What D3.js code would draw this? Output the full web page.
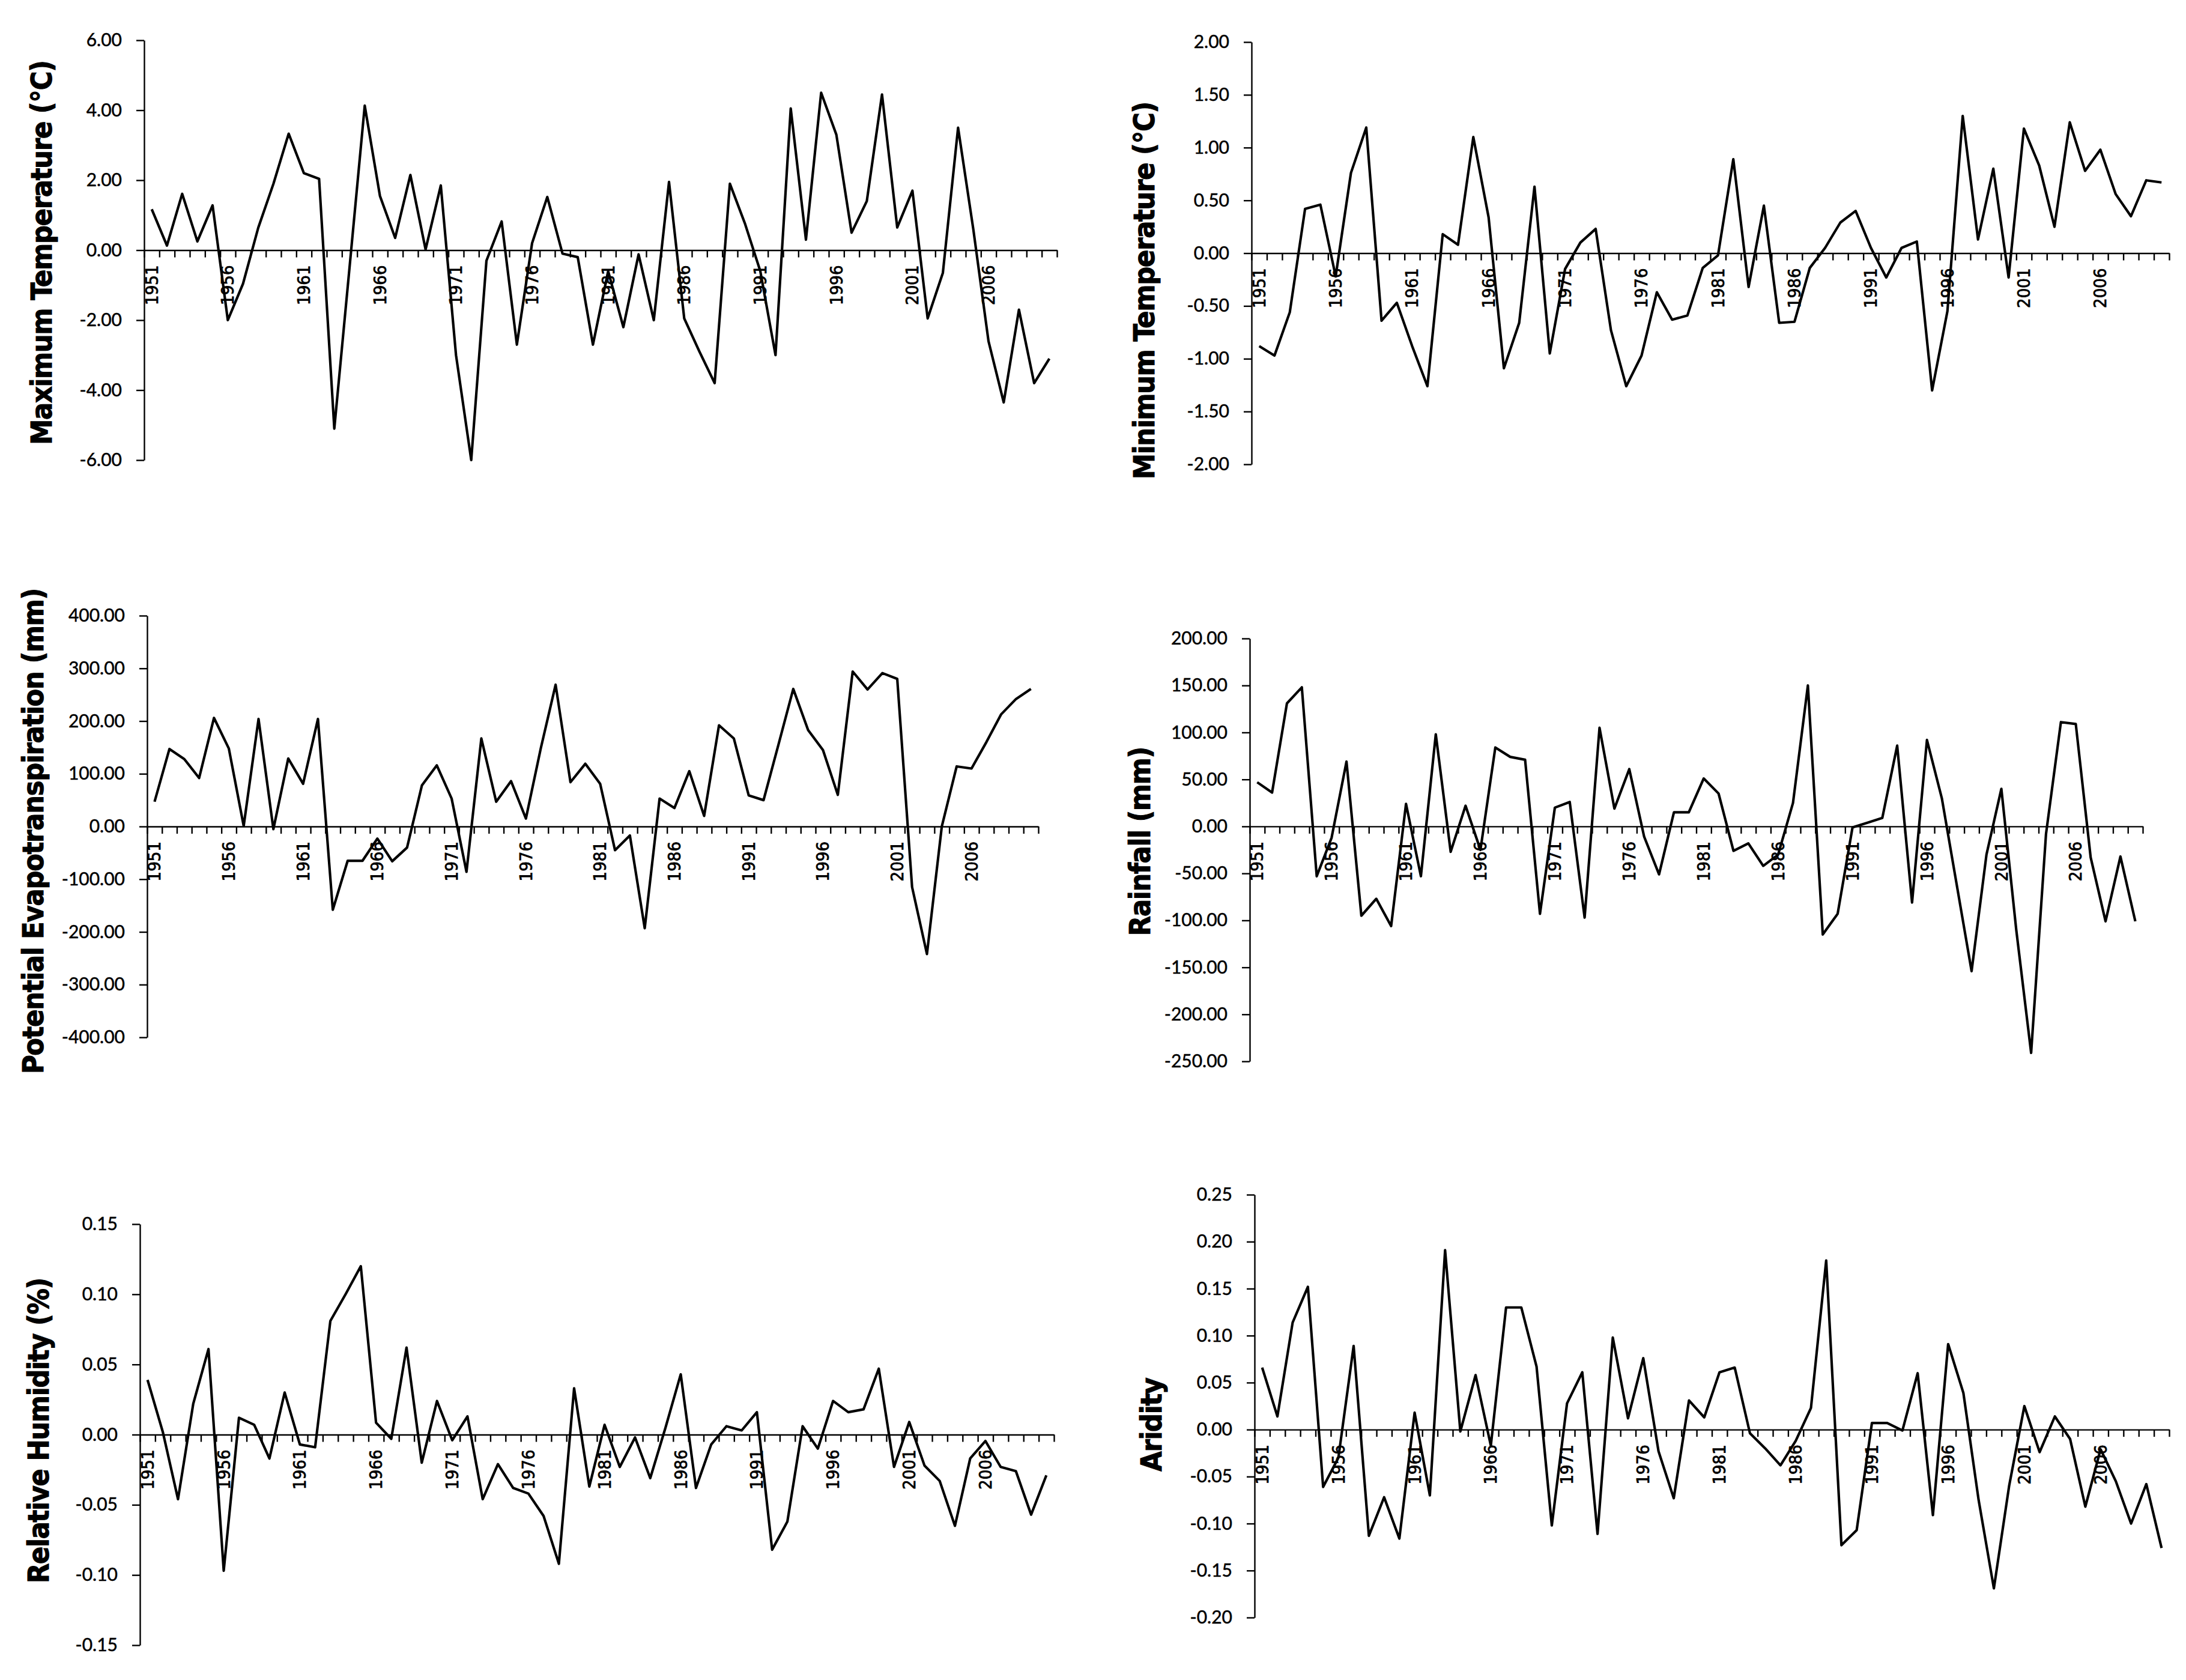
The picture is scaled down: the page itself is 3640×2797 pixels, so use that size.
<!DOCTYPE html>
<html>
<head>
<meta charset="utf-8">
<script src="https://cdn.jsdelivr.net/npm/d3@7"></script>
<style>
  body { margin: 0; background: #fff; }
  text { fill: #000; }
</style>
</head>
<body>
<svg id="chart" width="3640" height="2797"></svg>
<script>
// categories
var years = [1951, 1952, 1953, 1954, 1955, 1956, 1957, 1958, 1959, 1960,
             1961, 1962, 1963, 1964, 1965, 1966, 1967, 1968, 1969, 1970,
             1971, 1972, 1973, 1974, 1975, 1976, 1977, 1978, 1979, 1980,
             1981, 1982, 1983, 1984, 1985, 1986, 1987, 1988, 1989, 1990,
             1991, 1992, 1993, 1994, 1995, 1996, 1997, 1998, 1999, 2000,
             2001, 2002, 2003, 2004, 2005, 2006, 2007, 2008, 2009, 2010];
var labelYears = [1951, 1956, 1961, 1966, 1971, 1976, 1981, 1986, 1991, 1996, 2001, 2006];

// series
var maxTemp = [1.17, 0.13, 1.61, 0.25, 1.28, -2.0, -0.96, 0.64, 1.9, 3.33,
               2.2, 2.04, -5.1, -0.5, 4.13, 1.55, 0.35, 2.15, 0.02, 1.85,
               -3.0, -6.0, -0.3, 0.82, -2.7, 0.2, 1.52, -0.1, -0.2, -2.7,
               -0.6, -2.2, -0.12, -2.0, 1.95, -1.95, -2.9, -3.8, 1.9, 0.75,
               -0.6, -3.0, 4.05, 0.3, 4.5, 3.3, 0.5, 1.4, 4.45, 0.65,
               1.7, -1.95, -0.65, 3.5, 0.6, -2.6, -4.35, -1.7, -3.8, -3.1];
var minTemp = [-0.88, -0.97, -0.56, 0.42, 0.46, -0.22, 0.76, 1.19, -0.64, -0.47,
               -0.88, -1.26, 0.18, 0.08, 1.10, 0.34, -1.09, -0.66, 0.63, -0.95,
               -0.15, 0.10, 0.23, -0.73, -1.26, -0.97, -0.37, -0.63, -0.59, -0.14,
               -0.02, 0.89, -0.32, 0.45, -0.66, -0.65, -0.14, 0.05, 0.29, 0.40,
               0.05, -0.23, 0.05, 0.11, -1.30, -0.55, 1.30, 0.13, 0.80, -0.23,
               1.18, 0.83, 0.25, 1.24, 0.78, 0.98, 0.56, 0.35, 0.69, 0.67];
var pet = [47, 147, 128, 92, 206, 148, 1, 204, -5, 129,
           81, 204, -158, -65, -65, -23, -66, -40, 78, 116,
           53, -86, 167, 47, 86, 15, 148, 269, 84, 119,
           81, -45, -17, -193, 53, 35, 105, 20, 192, 167,
           59, 50, 155, 261, 183, 145, 60, 294, 260, 291,
           280, -115, -242, 0, 114, 110, 160, 213, 242, 261];
var rainfall = [47, 36, 131, 148, -53, -12, 69, -95, -77, -106,
                24, -53, 98, -27, 22, -25, 84, 74, 71, -93,
                20, 26, -97, 105, 19, 61, -11, -51, 15, 15,
                51, 35, -26, -18, -42, -30, 25, 150, -115, -93,
                -1, 4, 9, 86, -81, 92, 30, -62, -154, -30,
                40, -110, -241, -8, 111, 109, -33, -101, -32, -101];
var humidity = [0.039, 0.002, -0.046, 0.022, 0.061, -0.097, 0.012, 0.007, -0.017, 0.030,
                -0.007, -0.009, 0.081, 0.100, 0.120, 0.0085, -0.003, 0.062, -0.020, 0.024,
                -0.004, 0.013, -0.046, -0.021, -0.038, -0.042, -0.058, -0.092, 0.033, -0.037,
                0.007, -0.023, -0.002, -0.031, 0.005, 0.043, -0.038, -0.007, 0.006, 0.003,
                0.016, -0.082, -0.062, 0.006, -0.010, 0.024, 0.016, 0.018, 0.047, -0.023,
                0.009, -0.022, -0.033, -0.065, -0.017, -0.0045, -0.023, -0.026, -0.057, -0.029];
var aridity = [0.066, 0.014, 0.114, 0.152, -0.061, -0.030, 0.089, -0.113, -0.072, -0.116,
               0.018, -0.070, 0.191, -0.002, 0.058, -0.017, 0.130, 0.130, 0.067, -0.102,
               0.028, 0.061, -0.111, 0.098, 0.012, 0.076, -0.023, -0.073, 0.031, 0.013,
               0.061, 0.066, -0.004, -0.020, -0.038, -0.012, 0.023, 0.180, -0.123, -0.107,
               0.007, 0.007, -0.001, 0.060, -0.091, 0.091, 0.039, -0.075, -0.169, -0.060,
               0.025, -0.024, 0.014, -0.010, -0.082, -0.021, -0.055, -0.100, -0.058, -0.126];

// tick labels
var maxTempTicks = [6, 4, 2, 0, -2, -4, -6];
var minTempTicks = [2, 1.5, 1, 0.5, 0, -0.5, -1, -1.5, -2];
var petTicks = [400, 300, 200, 100, 0, -100, -200, -300, -400];
var rainTicks = [200, 150, 100, 50, 0, -50, -100, -150, -200, -250];
var humidityTicks = [0.15, 0.10, 0.05, 0, -0.05, -0.10, -0.15];
var aridityTicks = [0.25, 0.20, 0.15, 0.10, 0.05, 0, -0.05, -0.10, -0.15, -0.20];

var panels = [
  { title: "Maximum Temperature (\u00b0C)", values: maxTemp, ticks: maxTempTicks,
    left: 240, right: 1760, top: 67, bottom: 766, tx: 86, ty: 421 },
  { title: "Minimum Temperature (\u00b0C)", values: minTemp, ticks: minTempTicks,
    left: 2084, right: 3612, top: 70, bottom: 773, tx: 1922, ty: 484 },
  { title: "Potential Evapotranspiration (mm)", values: pet, ticks: petTicks,
    left: 245, right: 1729, top: 1025, bottom: 1727, tx: 72, ty: 1384 },
  { title: "Rainfall (mm)", values: rainfall, ticks: rainTicks,
    left: 2081, right: 3568, top: 1063, bottom: 1767, tx: 1915, ty: 1401 },
  { title: "Relative Humidity (%)", values: humidity, ticks: humidityTicks,
    left: 233, right: 1755, top: 2038, bottom: 2739, tx: 81, ty: 2382 },
  { title: "Aridity", values: aridity, ticks: aridityTicks,
    left: 2089, right: 3612, top: 1989, bottom: 2693, tx: 1934, ty: 2372 }
];

var fmt = d3.formatLocale({ decimal: ".", thousands: ",", grouping: [3], currency: ["", ""], minus: "-" }).format(".2f");

var svg = d3.select("#chart");

panels.forEach(function(p) {
  var g = svg.append("g");

  var x = d3.scaleBand().domain(years).range([p.left, p.right]);
  var xEdge = d3.scaleLinear().domain([0, years.length]).range([p.left, p.right]);
  var y = d3.scaleLinear().domain(d3.extent(p.ticks)).range([p.bottom, p.top]);
  var half = x.bandwidth() / 2;

  // y axis
  var ya = g.append("g")
    .attr("transform", "translate(" + p.left + ",0)")
    .call(d3.axisLeft(y).tickValues(p.ticks).tickFormat(fmt).tickSize(13).tickSizeOuter(0).tickPadding(24));
  ya.select(".domain").attr("stroke", "#000").attr("stroke-width", 2.4);
  ya.selectAll(".tick line").attr("stroke", "#000").attr("stroke-width", 2.4);
  ya.selectAll(".tick text")
    .style("font-family", "Lato, 'Liberation Sans', sans-serif")
    .style("font-size", "30px")
    .attr("fill", "#000")
    .attr("stroke", "#000")
    .attr("stroke-width", 0.5);

  // x axis at zero, ticks between categories
  var xa = g.append("g")
    .attr("transform", "translate(0," + y(0) + ")")
    .call(d3.axisBottom(xEdge).tickValues(d3.range(0, years.length + 1)).tickFormat("").tickSize(12).tickSizeOuter(0));
  xa.select(".domain").attr("stroke", "#000").attr("stroke-width", 2.4);
  xa.selectAll(".tick line").attr("stroke", "#000").attr("stroke-width", 2.4);

  // year labels, every fifth year
  g.selectAll(".year")
    .data(labelYears)
    .enter()
    .append("text")
    .attr("class", "year")
    .attr("transform", d => "translate(" + (x(d) + half) + "," + (y(0) + 25) + ") rotate(-90)")
    .attr("text-anchor", "end")
    .attr("dominant-baseline", "central")
    .attr("stroke", "#000")
    .attr("stroke-width", 0.8)
    .style("font-family", "'DejaVu Sans Condensed', 'DejaVu Sans', sans-serif")
    .style("font-stretch", "condensed")
    .style("font-size", "29px")
    .text(d => d);

  // series line
  var line = d3.line()
    .x((d, i) => x(years[i]) + half)
    .y(d => y(d));
  g.append("path")
    .datum(p.values)
    .attr("d", line)
    .attr("fill", "none")
    .attr("stroke", "#000")
    .attr("stroke-width", 4.2)
    .attr("stroke-linejoin", "round");

  // axis title, baseline at tx
  g.append("text")
    .attr("transform", "translate(" + p.tx + "," + p.ty + ") rotate(-90)")
    .attr("text-anchor", "middle")
    .attr("stroke", "#000")
    .attr("stroke-width", 1)
    .style("font-family", "'DejaVu Sans Condensed', 'DejaVu Sans', sans-serif")
    .style("font-stretch", "condensed")
    .style("font-weight", "bold")
    .style("font-size", "48px")
    .style("letter-spacing", "-1.2px")
    .text(p.title);
});
</script>
</body>
</html>
